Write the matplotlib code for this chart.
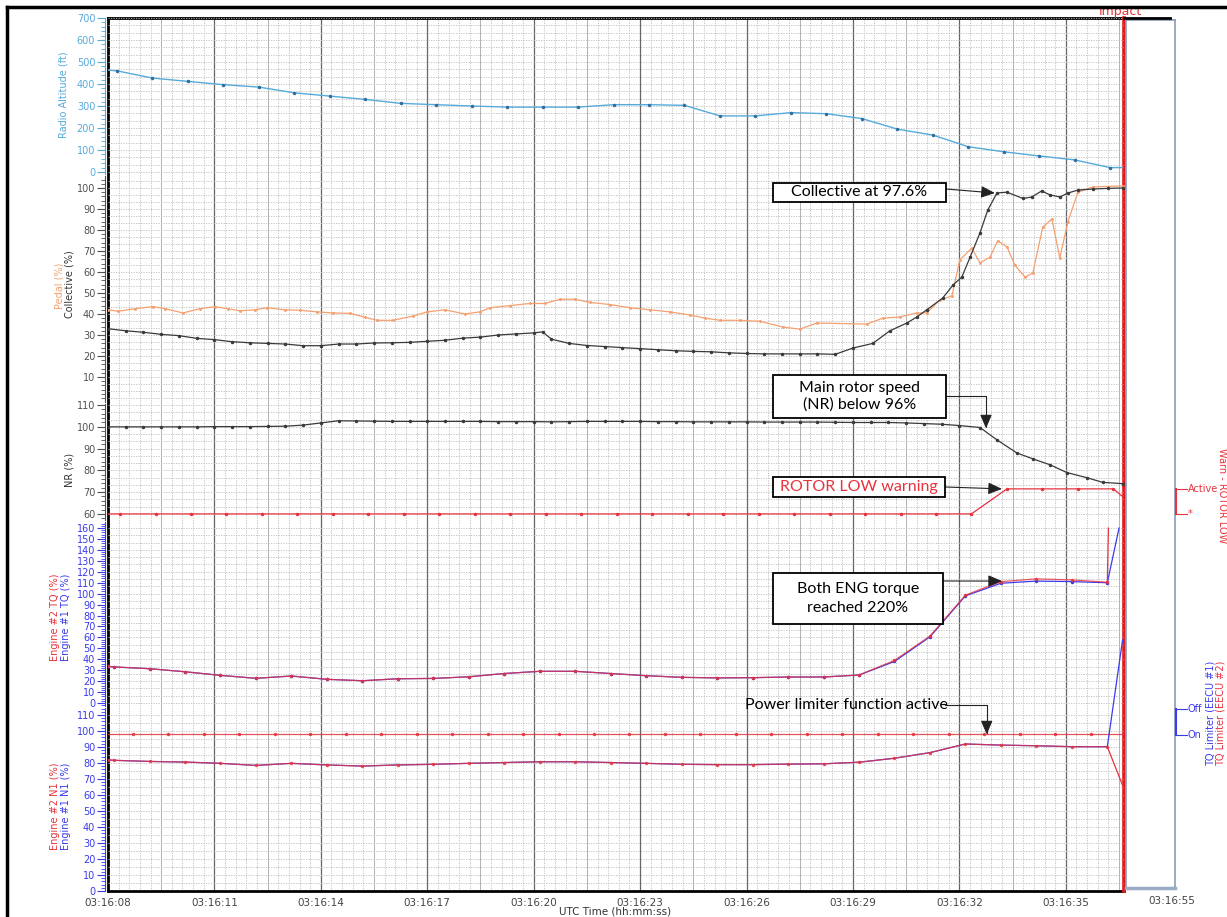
import numpy as np
import matplotlib.pyplot as plt
from matplotlib.lines import Line2D
from matplotlib.patches import Rectangle
from matplotlib.ticker import MultipleLocator

W, H = 1227, 917
T_END = 28.64  # impact, seconds after 03:16:08

time_ticks = [0, 3, 6, 9, 12, 15, 18, 21, 24, 27]
time_labels = ["03:16:08", "03:16:11", "03:16:14", "03:16:17", "03:16:20",
               "03:16:23", "03:16:26", "03:16:29", "03:16:32", "03:16:35"]

# radio altitude (ft)
ra_t = [0.0, 0.25, 1.25, 2.25, 3.25, 4.25, 5.25, 6.25, 7.25, 8.25, 9.25, 10.25,
        11.25, 12.25, 13.25, 14.25, 15.25, 16.25, 17.25, 18.25, 19.25, 20.25,
        21.25, 22.25, 23.25, 24.25, 25.25, 26.25, 27.25, 28.25, 28.6]
ra_ft = [463, 460, 427, 412, 397, 386, 360, 345, 330, 312, 306, 300, 295, 295,
         295, 306, 306, 303, 255, 255, 270, 265, 243, 195, 168, 115, 92, 73, 55,
         20, 20]

# collective (%)
col_t = [0.0, 0.5, 1.0, 1.5, 2.0, 2.5, 3.0, 3.5, 4.0, 4.5, 5.0, 5.5, 6.0, 6.5,
         7.0, 7.5, 8.0, 8.5, 9.0, 9.5, 10.0, 10.5, 11.0, 11.5, 12.0, 12.25, 12.5,
         13.0, 13.5, 14.0, 14.5, 15.0, 15.5, 16.0, 16.5, 17.0, 17.5, 18.0, 18.5,
         19.0, 19.5, 20.0, 20.5, 21.0, 21.56, 22.04, 22.52, 22.8, 23.08, 23.53,
         23.82, 24.07, 24.3, 24.58, 24.8, 25.06, 25.34, 25.79, 26.04, 26.32,
         26.55, 26.83, 27.06, 27.34, 27.76, 28.18, 28.6]
col_pct = [33.0, 32.0, 31.3, 30.3, 29.7, 28.4, 27.8, 26.8, 26.3, 26.0, 25.7,
           24.9, 24.9, 25.7, 25.7, 26.2, 26.3, 26.5, 27.0, 27.5, 28.5, 29.0,
           30.0, 30.5, 31.0, 31.5, 28.0, 26.0, 25.0, 24.5, 24.0, 23.5, 23.0,
           22.5, 22.2, 22.0, 21.5, 21.2, 21.0, 21.0, 21.0, 21.0, 20.8, 23.8,
           26.0, 32.0, 35.7, 38.6, 42.0, 47.6, 53.8, 57.6, 67.0, 78.6, 89.5,
           97.6, 98.0, 95.0, 95.7, 98.6, 96.7, 95.7, 97.6, 99.0, 99.5, 99.8, 100.0]

# pedal (%)
ped_t = [0.0, 0.28, 0.76, 1.27, 1.61, 2.11, 2.59, 3.02, 3.38, 3.72, 4.14, 4.48,
         4.99, 5.41, 5.89, 6.34, 6.82, 7.24, 7.58, 8.03, 8.6, 8.99, 9.5, 10.06,
         10.48, 10.77, 11.33, 11.89, 12.32, 12.74, 13.16, 13.59, 14.15, 14.71,
         15.28, 15.84, 16.41, 16.83, 17.25, 17.81, 18.38, 19.02, 19.5, 19.98,
         21.39, 21.84, 22.32, 22.8, 23.08, 23.45, 23.79, 24.01, 24.35, 24.58,
         24.86, 25.08, 25.34, 25.56, 25.85, 26.07, 26.35, 26.61, 26.83, 27.06,
         27.34, 27.76, 28.61]
ped_pct = [42.0, 41.3, 42.5, 43.5, 42.5, 40.5, 42.5, 43.5, 42.5, 41.5, 42.0,
           43.0, 42.0, 41.8, 41.0, 40.5, 40.3, 38.5, 37.0, 37.0, 39.0, 41.0,
           42.0, 40.0, 41.0, 43.0, 44.0, 45.0, 45.0, 47.0, 47.0, 45.5, 44.5,
           43.0, 42.0, 41.0, 39.5, 38.0, 37.0, 37.0, 36.5, 33.8, 32.8, 35.7,
           35.2, 38.0, 38.6, 40.5, 40.5, 46.7, 48.6, 65.7, 71.4, 64.3, 67.0,
           74.8, 72.0, 63.3, 57.6, 59.5, 81.4, 85.2, 66.7, 84.0, 98.0, 100.5, 101.0]

# main rotor speed NR (%)
nr_t = [0.0, 0.5, 1.0, 1.5, 2.0, 2.5, 3.0, 3.5, 4.0, 4.5, 5.0, 5.5, 6.0, 6.5,
        7.0, 7.5, 8.0, 8.5, 9.0, 9.5, 10.0, 10.5, 11.0, 11.5, 12.0, 12.5, 13.0,
        13.5, 14.0, 14.5, 15.0, 15.5, 16.0, 16.5, 17.0, 17.5, 18.0, 18.5, 19.0,
        19.5, 20.0, 20.5, 21.0, 21.5, 22.0, 22.5, 23.0, 23.5, 24.0, 24.58, 25.06,
        25.62, 26.07, 26.55, 27.03, 27.6, 28.04, 28.6]
nr_pct = [100.0, 100.0, 100.0, 100.0, 100.0, 100.0, 100.1, 100.1, 100.1, 100.2,
          100.3, 100.8, 101.8, 102.8, 102.7, 102.6, 102.5, 102.5, 102.5, 102.5,
          102.5, 102.5, 102.4, 102.4, 102.4, 102.3, 102.4, 102.5, 102.5, 102.5,
          102.5, 102.4, 102.4, 102.3, 102.3, 102.3, 102.3, 102.2, 102.2, 102.2,
          102.2, 102.1, 102.0, 102.0, 102.0, 101.8, 101.5, 101.2, 100.6, 99.7,
          94.0, 88.0, 85.3, 82.6, 79.0, 76.6, 74.5, 73.9]

# ROTOR LOW warning (60 = "*", 71.5 = "Active" on the NR scale)
rl_t = [0.0, 0.34, 1.34, 2.34, 3.34, 4.34, 5.34, 6.34, 7.34, 8.34, 9.34, 10.34,
        11.34, 12.34, 13.34, 14.34, 15.34, 16.34, 17.34, 18.34, 19.34, 20.34,
        21.34, 22.34, 23.34, 24.34, 25.34, 26.34, 27.34, 28.34, 28.6]
rl_state = [60] * 26 + [71.5] * 4 + [68]

# engine torque (%)
eng_t = [0.0, 0.17, 1.17, 2.17, 3.17, 4.17, 5.17, 6.17, 7.17, 8.17, 9.17, 10.17,
         11.17, 12.17, 13.17, 14.17, 15.17, 16.17, 17.17, 18.17, 19.17, 20.17,
         21.17, 22.17, 23.17, 24.17, 25.17, 26.17, 27.17, 28.17]
tq2_pct = [33.5, 33.0, 31.4, 28.6, 25.3, 22.6, 24.7, 21.7, 20.4, 22.2, 22.5,
           24.0, 27.0, 29.0, 29.0, 27.0, 25.0, 23.5, 23.0, 23.2, 23.8, 23.8,
           25.6, 39.0, 61.2, 98.7, 111.0, 113.5, 112.6, 110.4]
tq1_pct = [33.5, 33.0, 31.4, 28.6, 25.3, 22.6, 24.7, 21.7, 20.4, 22.2, 22.5,
           24.0, 27.0, 29.0, 29.0, 27.0, 25.0, 23.5, 23.0, 23.2, 23.8, 23.8,
           25.6, 38.0, 60.5, 98.0, 109.5, 111.5, 111.0, 110.0]
tq2_end = ([28.17, 28.2], [110.4, 160])
tq1_end = ([28.17, 28.5], [110.0, 160])

# engine N1 (%)
n1_pct = [82.0, 81.7, 81.0, 80.6, 79.8, 78.5, 79.8, 78.8, 78.1, 78.8, 79.2,
          79.8, 80.3, 80.8, 80.8, 80.3, 79.8, 79.2, 79.0, 79.0, 79.3, 79.5,
          80.5, 83.0, 86.5, 91.9, 91.2, 90.8, 90.2, 90.2]
n1_2_end = ([28.17, 28.6], [90.2, 66])
n1_1_end = ([28.17, 28.6], [90.2, 157])

# TQ limiter state ("On" level on the N1 scale)
tql_t = [0.0, 0.7, 1.7, 2.7, 3.7, 4.7, 5.7, 6.7, 7.7, 8.7, 9.7, 10.7, 11.7,
         12.7, 13.7, 14.7, 15.7, 16.7, 17.7, 18.7, 19.7, 20.7, 21.7, 22.7, 23.7,
         24.7, 25.7, 26.7, 27.7, 28.6]
tql_state = [97.9] * 30

RA_COL = '#55aadb'
GREY = '#505050'
BLUE = '#3a3aee'
RED = '#e8323c'
ORANGE = '#f5a070'
LW = 0.9
MS = 1.5

fig = plt.figure(figsize=(W / 100, H / 100), dpi=100)


def px(x0, y0, x1, y1):
    return [x0 / W, 1 - y1 / H, (x1 - x0) / W, (y1 - y0) / H]


def fy(y):
    return 1 - y / H


# background grid shared by all panels
bg = fig.add_axes(px(108, 18, 1124, 891))
bg.set_xlim(0, T_END)
bg.set_ylim(0, 1)
bg.set_xticks([])
bg.set_yticks([])
bg.vlines(np.arange(0.3, T_END, 0.3), 0, 1, colors='#bdbdbd', linestyles=(0, (1.5, 1.5)), lw=0.6)
bg.vlines(np.arange(1.5, T_END, 3), 0, 1, colors='#ababab', lw=0.6)
bg.vlines(np.arange(3, T_END, 3), 0, 1, colors='#666666', lw=0.9)
for s in ('left', 'top', 'bottom'):
    bg.spines[s].set_linewidth(2)
    bg.spines[s].set_color('k')
bg.spines['right'].set_visible(False)
bg.axvline(T_END, color='#e41a1c', lw=2.6, clip_on=False, zorder=10)


def panel(y0, y1, lo, hi, ticks, minor, grid, color):
    ax = fig.add_axes(px(108, y0, 1124, y1), facecolor='none')
    ax.set_xlim(0, T_END)
    ax.set_ylim(lo, hi)
    ax.hlines(grid, 0, T_END, colors='#bdbdbd', linestyles=(0, (1.5, 1.5)), lw=0.6, zorder=0)
    for s in ('top', 'right', 'bottom'):
        ax.spines[s].set_visible(False)
    ax.spines['left'].set_position(('outward', 2.2))
    ax.spines['left'].set_color(color)
    ax.set_yticks(ticks)
    ax.yaxis.set_minor_locator(MultipleLocator(minor))
    ax.tick_params(axis='y', which='both', colors=color, labelsize=7, pad=1)
    ax.tick_params(axis='y', which='major', length=6, width=0.8)
    ax.tick_params(axis='y', which='minor', length=3, width=0.6)
    ax.set_xticks([])
    return ax


ra = panel(18, 174, -9, 700, range(0, 701, 100), 20, np.arange(0, 701, 100 / 3), RA_COL)
col = panel(176, 402, -1.9, 105.7, range(10, 101, 10), 2, np.arange(0, 106, 10 / 3), GREY)
nr = panel(404, 520, 57.2, 110.5, range(60, 111, 10), 2, np.arange(60, 111, 10 / 3), GREY)
tq = panel(522, 706, -2.7, 165.5, range(0, 161, 10), 2, np.arange(0, 165, 20 / 3), BLUE)
n1 = panel(708, 891, 0, 114.4, range(0, 111, 10), 2, np.arange(0, 114, 5), BLUE)

# radio altitude
ra.plot(ra_t, ra_ft, color=RA_COL, lw=LW + 0.1)
ra.plot(ra_t[1:-1], ra_ft[1:-1], ls='none', marker='o', ms=MS, color='#2f6fa0')

# pedal and collective
col.plot(ped_t, ped_pct, color=ORANGE, lw=LW, marker='.', ms=2.2)
col.plot(col_t, col_pct, color='#3a3a3a', lw=LW, marker='o', ms=MS)

# NR and rotor low
nr.plot(nr_t, nr_pct, color='#3a3a3a', lw=LW, marker='o', ms=MS)
nr.plot(rl_t, rl_state, color=RED, lw=LW, marker='o', ms=MS, markevery=range(1, 30))

# torque
tq.plot(eng_t, tq1_pct, color=BLUE, lw=LW, marker='o', ms=MS)
tq.plot(*tq1_end, color=BLUE, lw=LW)
tq.plot(eng_t, tq2_pct, color=RED, lw=LW, alpha=0.8, marker='o', ms=MS)
tq.plot(*tq2_end, color=RED, lw=LW)

# N1 and TQ limiter
n1.plot(tql_t, tql_state, color=RED, lw=LW, alpha=0.85, marker='o', ms=MS, markevery=range(1, 29))
n1.plot(eng_t, n1_pct, color=BLUE, lw=LW)
n1.plot(eng_t, n1_pct, color=RED, lw=LW, alpha=0.8, marker='o', ms=MS)
n1.plot(*n1_1_end, color=BLUE, lw=LW, clip_on=False)
n1.plot(*n1_2_end, color=RED, lw=LW)

n1.set_xticks(time_ticks)
n1.set_xticklabels(time_labels)
n1.tick_params(axis='x', length=0, labelsize=7.5, colors='#444444', pad=5)

# white strip after impact
bx = fig.add_axes(px(1126, 20, 1175, 888))
bx.set_xticks([])
bx.set_yticks([])
for s in bx.spines.values():
    s.set_color('#8a9cb8')
    s.set_linewidth(1.2)
bx.spines['bottom'].set_linewidth(2.5)
bx.spines['bottom'].set_color('#9aabc5')
fig.text(1172 / W, fy(901), '03:16:55', fontsize=7.5, color='#444444', ha='center', va='center')
fig.text(615 / W, fy(912), 'UTC Time (hh:mm:ss)', fontsize=7.5, color='#333333', ha='center', va='center')

# y labels
ylab = dict(rotation=90, ha='center', va='center', fontsize=7)
fig.text(63 / W, fy(95), 'Radio Altitude (ft)', color=RA_COL, **ylab)
fig.text(59 / W, fy(286), 'Pedal (%)', color=ORANGE, **ylab)
fig.text(70 / W, fy(284), 'Collective (%)', color='#333333', **ylab)
fig.text(70 / W, fy(470), 'NR (%)', color='#333333', **ylab)
fig.text(55 / W, fy(617), 'Engine #2 TQ (%)', color=RED, **ylab)
fig.text(66 / W, fy(617), 'Engine #1 TQ (%)', color=BLUE, **ylab)
fig.text(55 / W, fy(806), 'Engine #2 N1 (%)', color=RED, **ylab)
fig.text(66 / W, fy(806), 'Engine #1 N1 (%)', color=BLUE, **ylab)


# discrete state brackets on the right
def bracket(y_top, y_bot, labels, color):
    fig.add_artist(Line2D([1176 / W] * 2, [fy(y_top), fy(y_bot)], color=color, lw=1.5))
    for y, lab in zip((y_top, y_bot), labels):
        fig.add_artist(Line2D([1176 / W, 1187 / W], [fy(y), fy(y)], color=color, lw=0.8))
        fig.text(1188 / W, fy(y), lab, color=color, fontsize=7, va='center')


bracket(489, 514, ('Active', '*'), RED)
bracket(709, 735, ('Off', 'On'), BLUE)
fig.text(1222 / W, fy(496), 'Warn - ROTOR LOW', rotation=270, color=RED, fontsize=7, ha='center', va='center')
fig.text(1211 / W, fy(713), 'TQ Limiter (EECU #1)', rotation=90, color=BLUE, fontsize=7, ha='center', va='center')
fig.text(1221 / W, fy(713), 'TQ Limiter (EECU #2)', rotation=90, color=RED, fontsize=7, ha='center', va='center')

# impact marker and outer frame
fig.text(1120 / W, fy(12), 'Impact', color=RED, fontsize=9, ha='center', va='center', zorder=1)
fig.add_artist(Line2D([1124 / W, 1170 / W], [fy(18), fy(18)], color='k', lw=2, zorder=5))
fig.add_artist(Line2D([7 / W, 1], [fy(7), fy(7)], color='k', lw=2.5, zorder=20))
fig.add_artist(Line2D([7 / W, 7 / W], [0, fy(7)], color='k', lw=2.5, zorder=20))


# call-outs
def arrow(ax, xy, start, elbow=False):
    conn = 'angle,angleA=0,angleB=90,rad=0' if elbow else 'arc3'
    ax.annotate('', xy=xy, xycoords='data', xytext=(start[0], H - start[1]),
                textcoords='figure pixels', annotation_clip=False,
                arrowprops=dict(arrowstyle='-|>,head_length=0.7,head_width=0.3',
                                mutation_scale=12, color='#222222', lw=0.8,
                                shrinkA=0, shrinkB=0, connectionstyle=conn))


def box(x0, y0, x1, y1, text, color='k', spacing=1.25):
    fig.add_artist(Rectangle((x0 / W, fy(y1)), (x1 - x0) / W, (y1 - y0) / H,
                             facecolor='white', edgecolor='k', lw=1.3, zorder=30))
    fig.text((x0 + x1) / 2 / W, fy((y0 + y1) / 2), text, ha='center', va='center',
             fontsize=11.5, family='Lato', color=color, zorder=31, linespacing=spacing)


arrow(col, (25.0, 97.6), (946, 189))
arrow(nr, (24.75, 99.3), (946, 396), elbow=True)
arrow(nr, (25.2, 71.5), (945, 487))
arrow(tq, (25.2, 111.5), (943, 581))
arrow(n1, (24.77, 97.9), (945, 705), elbow=True)

box(773, 183, 946, 202, 'Collective at 97.6%')
box(773, 375, 946, 418, 'Main rotor speed\n(NR) below 96%')
box(773, 477, 945, 497, 'ROTOR LOW warning', color=RED)
box(773, 573, 943, 624, 'Both ENG torque\nreached 220%', spacing=1.45)
fig.text(846 / W, fy(705), 'Power limiter function active', ha='center', va='center',
         fontsize=11.5, family='Lato', color='k', zorder=31)

fig.savefig('out.png', dpi=100)
